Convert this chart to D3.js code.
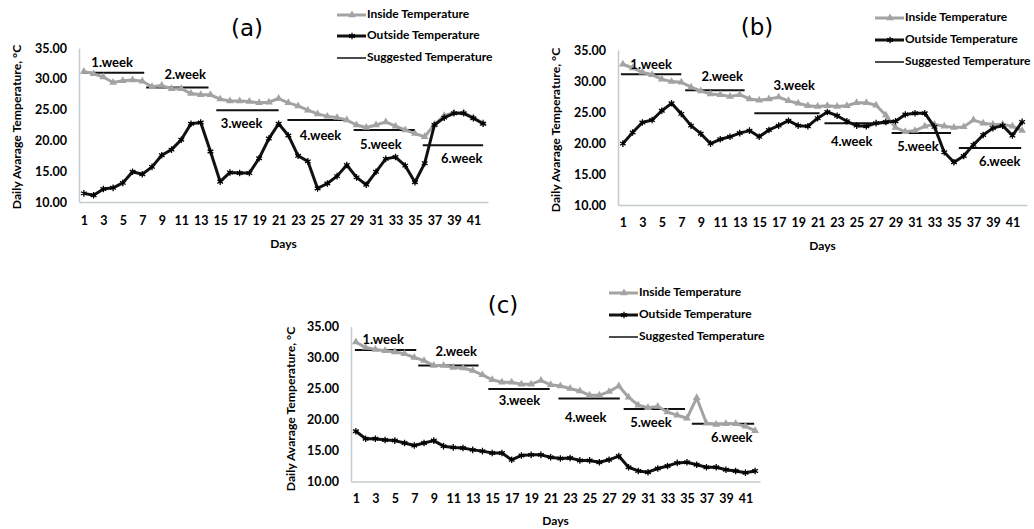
<!DOCTYPE html>
<html>
<head>
<meta charset="utf-8">
<script src="https://cdn.jsdelivr.net/npm/d3@7"></script>
<style>
  body { margin: 0; background: #fff; }
  svg { display: block; }
  text { font-family: Lato, "Open Sans", sans-serif; font-weight: bold; fill: #000; }
</style>
</head>
<body>
<svg id="chart" width="1034" height="529"></svg>
<script>
// days and tick labels
const days = [1,2,3,4,5,6,7,8,9,10,11,12,13,14,15,16,17,18,19,20,21,22,23,24,25,26,27,28,29,30,31,32,33,34,35,36,37,38,39,40,41,42];
const dayTicks = [1,3,5,7,9,11,13,15,17,19,21,23,25,27,29,31,33,35,37,39,41];
const tempTicks = [10, 15, 20, 25, 30, 35];
const weekNames = ["1.week", "2.week", "3.week", "4.week", "5.week", "6.week"];
const seriesNames = ["Inside Temperature", "Outside Temperature", "Suggested Temperature"];

// (a)
const insideA = [31.2,30.8,30.3,29.4,29.7,29.8,29.6,28.7,28.9,28.4,28.4,27.6,27.4,27.4,26.7,26.4,26.4,26.3,26.1,26.2,26.8,26.1,25.6,24.9,24.3,23.9,23.7,23.3,22.5,22.1,22.5,23.0,22.3,21.7,21.1,20.6,22.6,24.0,24.5,24.5,23.7,22.8];
const outsideA = [11.4,11.1,12.1,12.3,13.1,14.9,14.5,15.7,17.6,18.5,20.1,22.7,22.9,18.2,13.3,14.8,14.7,14.7,17.1,20.3,22.7,20.8,17.5,16.6,12.2,13.0,14.2,16.0,14.0,12.8,14.9,17.0,17.3,15.9,13.2,16.3,22.5,23.7,24.4,24.4,23.6,22.7];
const suggestedA = [31.0, 28.6, 24.9, 23.3, 21.7, 19.2];
const weekStartA = [0.9, 7.4, 14.6, 21.9, 28.7, 35.8];
const weekEndA = [7.2, 13.8, 21.0, 28.1, 35.0, 42.0];
const weekLabelDayA = [3.9, 11.4, 17.2, 25.3, 31.5, 39.8];
const weekLabelTempA = [32.4, 30.45, 22.5, 20.55, 19.1, 16.8];

// (b)
const insideB = [32.7,32.1,31.4,31.0,30.3,29.9,29.8,29.0,28.4,27.9,27.8,27.5,27.8,27.1,26.9,27.1,27.4,26.8,26.4,26.0,25.9,26.0,25.9,26.0,26.5,26.5,26.1,24.5,22.5,21.8,22.0,22.7,23.0,22.7,22.5,22.6,23.7,23.2,23.0,23.0,22.7,22.0];
const outsideB = [19.9,21.7,23.3,23.7,25.2,26.4,24.7,22.8,21.5,19.9,20.6,21.0,21.6,22.0,21.0,22.1,22.8,23.6,22.8,22.7,24.0,25.0,24.4,23.5,22.8,22.7,23.2,23.4,23.5,24.6,24.8,24.8,22.6,18.5,16.9,17.9,19.7,21.3,22.4,22.8,21.2,23.4];
const suggestedB = [31.1, 28.5, 24.8, 23.2, 21.6, 19.2];
const weekStartB = [0.8, 7.4, 14.5, 21.7, 28.6, 35.5];
const weekEndB = [7.0, 13.5, 21.2, 28.2, 34.7, 41.9];
const weekLabelDayB = [3.9, 11.2, 18.6, 24.5, 31.3, 39.7];
const weekLabelTempB = [32.5, 30.5, 29.1, 20.0, 19.2, 16.9];

// (c)
const insideC = [32.5,31.6,31.3,31.1,30.9,30.6,30.0,29.5,28.7,28.7,28.4,28.3,27.9,27.2,26.4,26.0,26.0,25.7,25.7,26.3,25.6,25.4,25.0,24.6,23.9,23.9,24.5,25.4,23.6,22.3,21.9,22.1,21.2,20.7,20.2,23.5,19.4,19.2,19.3,19.3,18.9,18.2];
const outsideC = [18.1,16.9,16.9,16.7,16.6,16.2,15.8,16.2,16.6,15.7,15.5,15.4,15.1,14.9,14.6,14.6,13.5,14.2,14.3,14.3,13.9,13.7,13.8,13.4,13.4,13.1,13.5,14.1,12.3,11.7,11.5,12.1,12.5,13.0,13.1,12.7,12.3,12.3,11.9,11.7,11.4,11.7];
const suggestedC = [31.2, 28.7, 24.9, 23.4, 21.7, 19.3];
const weekStartC = [0.9, 7.4, 14.6, 21.8, 28.5, 35.5];
const weekEndC = [7.2, 13.6, 20.9, 28.1, 34.8, 41.9];
const weekLabelDayC = [3.8, 11.3, 17.8, 24.6, 31.3, 39.6];
const weekLabelTempC = [32.7, 30.7, 22.8, 20.1, 19.3, 16.9];

const GRAY = "#a3a3a3";
const AXIS = "#c3cbcb";
const starSymbol = d3.symbolAsterisk || d3.symbolCross;

const panels = [
  { title: "(a)", inside: insideA, outside: outsideA, sugg: suggestedA, ws: weekStartA, we: weekEndA, ld: weekLabelDayA, lt: weekLabelTempA,
    x0: 79, x1: 488, yTop: 48, yBot: 202, tx: 247, ty: 29, lgx: 337, lgy: [15, 36, 58], ytx: 18, yty: 127, xl: 20, dl: 43 },
  { title: "(b)", inside: insideB, outside: outsideB, sugg: suggestedB, ws: weekStartB, we: weekEndB, ld: weekLabelDayB, lt: weekLabelTempB,
    x0: 618, x1: 1027, yTop: 50, yBot: 205, tx: 757, ty: 28, lgx: 875, lgy: [18, 40, 62], ytx: 557, yty: 130, xl: 19, dl: 42 },
  { title: "(c)", inside: insideC, outside: outsideC, sugg: suggestedC, ws: weekStartC, we: weekEndC, ld: weekLabelDayC, lt: weekLabelTempC,
    x0: 351, x1: 760, yTop: 326.5, yBot: 481.5, tx: 503, ty: 306, lgx: 609, lgy: [293, 315, 337], ytx: 292, yty: 409, xl: 18.5, dl: 40.5 }
];

const svg = d3.select("#chart");

panels.forEach(function (p) {
  const g = svg.append("g");
  const x = d3.scaleLinear().domain([0.5, 42.5]).range([p.x0, p.x1]);
  const y = d3.scaleLinear().domain([10, 35]).range([p.yBot, p.yTop]);

  // axes
  const xAxis = g.append("g")
    .attr("transform", "translate(0," + p.yBot + ")")
    .call(d3.axisBottom(x).tickValues(dayTicks).tickSize(0).tickPadding(p.xl - 6).tickSizeOuter(0));
  xAxis.select(".domain").attr("stroke", AXIS).attr("stroke-width", 1.5);
  xAxis.selectAll("text").style("font-size", "12.5px").attr("fill", "#000");

  const yAxis = g.append("g")
    .attr("transform", "translate(" + p.x0 + ",0)")
    .call(d3.axisLeft(y).tickValues(tempTicks).tickFormat(d3.format(".2f")).tickSize(0).tickPadding(12).tickSizeOuter(0));
  yAxis.select(".domain").attr("stroke", AXIS).attr("stroke-width", 1.5);
  yAxis.selectAll("text").style("font-size", "12.5px").attr("fill", "#000");

  // axis titles
  g.append("text")
    .attr("x", (p.x0 + p.x1) / 2).attr("y", p.yBot + p.dl)
    .attr("text-anchor", "middle").attr("dominant-baseline", "middle")
    .style("font-size", "12px").text("Days");
  g.append("text")
    .attr("transform", "translate(" + p.ytx + "," + p.yty + ") rotate(-90)")
    .attr("text-anchor", "middle").attr("dominant-baseline", "middle")
    .style("font-size", "12.2px").text("Daily Avarage Temperature, \u00b0C");

  // panel title
  g.append("text")
    .attr("x", p.tx).attr("y", p.ty)
    .attr("text-anchor", "middle").attr("dominant-baseline", "middle")
    .style("font-family", "'DejaVu Sans', sans-serif").style("font-weight", "normal")
    .style("font-size", "23px").attr("fill", "#222").text(p.title);

  // suggested temperature lines
  g.selectAll(".sugg").data(p.sugg).enter().append("line")
    .attr("x1", function (d, i) { return x(p.ws[i]); })
    .attr("x2", function (d, i) { return x(p.we[i]); })
    .attr("y1", function (d) { return y(d); })
    .attr("y2", function (d) { return y(d); })
    .attr("stroke", "#111").attr("stroke-width", 2);

  const line = d3.line()
    .x(function (d, i) { return x(days[i]); })
    .y(function (d) { return y(d); });

  // inside
  g.append("path").datum(p.inside)
    .attr("d", line).attr("fill", "none")
    .attr("stroke", GRAY).attr("stroke-width", 3).attr("stroke-linejoin", "round");
  g.selectAll(".tri").data(p.inside).enter().append("path")
    .attr("transform", function (d, i) { return "translate(" + x(days[i]) + "," + y(d) + ")"; })
    .attr("d", d3.symbol(d3.symbolTriangle).size(26))
    .attr("fill", GRAY);

  // outside
  g.append("path").datum(p.outside)
    .attr("d", line).attr("fill", "none")
    .attr("stroke", "#111").attr("stroke-width", 3).attr("stroke-linejoin", "round");
  g.selectAll(".star").data(p.outside).enter().append("path")
    .attr("transform", function (d, i) { return "translate(" + x(days[i]) + "," + y(d) + ")"; })
    .attr("d", d3.symbol(starSymbol).size(30))
    .attr("fill", "none").attr("stroke", "#000").attr("stroke-width", 1.3);

  // week labels
  g.selectAll(".wk").data(weekNames).enter().append("text")
    .attr("x", function (d, i) { return x(p.ld[i]); })
    .attr("y", function (d, i) { return y(p.lt[i]); })
    .attr("text-anchor", "middle").attr("dominant-baseline", "middle")
    .style("font-size", "13px").text(function (d) { return d; });

  // legend
  const lg = g.append("g");
  seriesNames.forEach(function (name, i) {
    const ly = p.lgy[i];
    const row = lg.append("g");
    row.append("line")
      .attr("x1", p.lgx).attr("x2", p.lgx + 29).attr("y1", ly).attr("y2", ly)
      .attr("stroke", i === 0 ? GRAY : "#111")
      .attr("stroke-width", i === 2 ? 1.5 : 3);
    if (i === 0) {
      row.append("path")
        .attr("transform", "translate(" + (p.lgx + 15) + "," + ly + ")")
        .attr("d", d3.symbol(d3.symbolTriangle).size(26)).attr("fill", GRAY);
    } else if (i === 1) {
      row.append("path")
        .attr("transform", "translate(" + (p.lgx + 15) + "," + ly + ")")
        .attr("d", d3.symbol(starSymbol).size(30))
        .attr("fill", "none").attr("stroke", "#000").attr("stroke-width", 1.3);
    }
    row.append("text")
      .attr("x", p.lgx + 30).attr("y", ly)
      .attr("dominant-baseline", "middle")
      .style("font-size", "12px").text(name);
  });
});
</script>
</body>
</html>
